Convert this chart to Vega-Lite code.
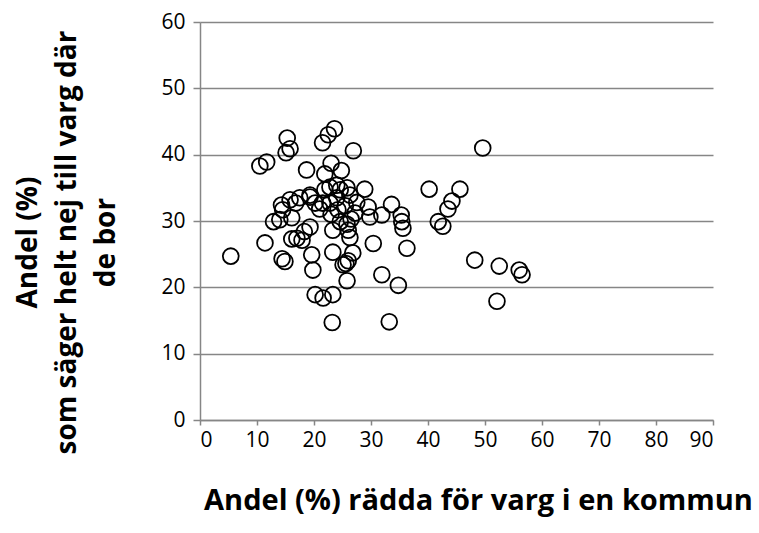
{
  "$schema": "https://vega.github.io/schema/vega-lite/v6.json",
  "width": 513,
  "height": 398,
  "autosize": {"type": "none"},
  "padding": {"left": 200, "top": 22, "right": 46, "bottom": 113},
  "background": "white",
  "config": {
    "view": {"stroke": null},
    "font": "Open Sans",
    "axis": {
      "labelFont": "Open Sans",
      "titleFont": "Open Sans",
      "labelColor": "black",
      "titleColor": "black",
      "domainColor": "#868686",
      "tickColor": "#868686",
      "gridColor": "#868686",
      "domainWidth": 1.5,
      "tickWidth": 1.5,
      "gridWidth": 1.5
    }
  },
  "data": {
    "values": [
      {"x": 15.3, "y": 42.5}, {"x": 15.8, "y": 40.9}, {"x": 15.1, "y": 40.3}, {"x": 11.7, "y": 38.9},
      {"x": 10.5, "y": 38.3}, {"x": 18.7, "y": 37.7}, {"x": 23.6, "y": 43.9}, {"x": 22.5, "y": 43.0},
      {"x": 21.5, "y": 41.8}, {"x": 26.9, "y": 40.6}, {"x": 23.0, "y": 38.7}, {"x": 21.9, "y": 37.1},
      {"x": 24.8, "y": 37.6}, {"x": 49.6, "y": 41.0}, {"x": 40.2, "y": 34.8}, {"x": 45.6, "y": 34.8},
      {"x": 44.2, "y": 33.0}, {"x": 43.5, "y": 31.8}, {"x": 41.8, "y": 29.9}, {"x": 42.6, "y": 29.2},
      {"x": 48.2, "y": 24.1}, {"x": 52.5, "y": 23.2}, {"x": 56.0, "y": 22.6}, {"x": 56.5, "y": 21.9},
      {"x": 52.1, "y": 17.9}, {"x": 5.4, "y": 24.7}, {"x": 11.4, "y": 26.7}, {"x": 14.4, "y": 24.3},
      {"x": 14.9, "y": 23.9}, {"x": 12.9, "y": 29.9}, {"x": 14.0, "y": 30.2}, {"x": 14.5, "y": 31.7},
      {"x": 14.3, "y": 32.4}, {"x": 15.8, "y": 33.2}, {"x": 17.5, "y": 33.5}, {"x": 19.3, "y": 33.6},
      {"x": 20.2, "y": 32.7}, {"x": 16.1, "y": 30.5}, {"x": 17.0, "y": 27.4}, {"x": 16.1, "y": 27.3},
      {"x": 17.9, "y": 27.1}, {"x": 19.3, "y": 29.1}, {"x": 19.6, "y": 24.9}, {"x": 19.8, "y": 22.6},
      {"x": 20.2, "y": 18.9}, {"x": 21.6, "y": 18.4}, {"x": 23.3, "y": 18.9}, {"x": 23.2, "y": 14.7},
      {"x": 33.2, "y": 14.8}, {"x": 23.3, "y": 25.3}, {"x": 25.1, "y": 23.4}, {"x": 25.6, "y": 23.6},
      {"x": 26.0, "y": 24.0}, {"x": 25.8, "y": 21.0}, {"x": 26.8, "y": 25.2}, {"x": 30.4, "y": 26.6},
      {"x": 36.3, "y": 25.9}, {"x": 31.9, "y": 21.9}, {"x": 34.8, "y": 20.3}, {"x": 28.9, "y": 34.8},
      {"x": 29.5, "y": 32.1}, {"x": 31.9, "y": 30.9}, {"x": 33.6, "y": 32.5}, {"x": 35.3, "y": 30.9},
      {"x": 35.4, "y": 29.9}, {"x": 35.6, "y": 28.9}, {"x": 19.3, "y": 33.9}, {"x": 21.9, "y": 34.7},
      {"x": 22.8, "y": 35.1}, {"x": 24.0, "y": 35.4}, {"x": 24.6, "y": 34.7}, {"x": 25.8, "y": 35.0},
      {"x": 26.3, "y": 33.9}, {"x": 24.0, "y": 33.5}, {"x": 22.8, "y": 32.7}, {"x": 21.5, "y": 32.7},
      {"x": 24.2, "y": 31.7}, {"x": 27.2, "y": 31.2}, {"x": 29.8, "y": 30.6}, {"x": 23.3, "y": 28.6},
      {"x": 26.0, "y": 28.6}, {"x": 26.3, "y": 27.5}, {"x": 16.8, "y": 32.7}, {"x": 18.3, "y": 28.4},
      {"x": 24.6, "y": 29.9}, {"x": 26.5, "y": 30.3}, {"x": 27.5, "y": 32.8}, {"x": 25.5, "y": 32.3},
      {"x": 23.0, "y": 31.0}, {"x": 21.0, "y": 31.8}, {"x": 25.8, "y": 29.5}
    ]
  },
  "mark": {"type": "point", "shape": "circle", "filled": false, "stroke": "black", "strokeWidth": 1.8, "size": 250, "opacity": 1},
  "encoding": {
    "x": {
      "field": "x", "type": "quantitative",
      "scale": {"domain": [0, 90], "nice": false},
      "axis": {
        "values": [0, 10, 20, 30, 40, 50, 60, 70, 80, 90],
        "grid": false,
        "tickSize": 5,
        "labelFontSize": 21,
        "labelPadding": 4,
        "title": "Andel (%) rädda för varg i en kommun",
        "titleFontSize": 29,
        "titleFontWeight": "bold",
        "titleAnchor": "start",
        "titleAlign": "center",
        "titleBaseline": "middle",
        "titleX": 278,
        "titleY": 80
      }
    },
    "y": {
      "field": "y", "type": "quantitative",
      "scale": {"domain": [0, 60], "nice": false, "zero": true},
      "axis": {
        "values": [0, 10, 20, 30, 40, 50, 60],
        "grid": true,
        "tickSize": 7,
        "labelFontSize": 21,
        "labelPadding": 8,
        "title": ["Andel (%)", "som säger helt nej till varg där", "de bor"],
        "titleFontSize": 28,
        "titleFontWeight": "bold",
        "titleAngle": -90,
        "titleAlign": "center",
        "titleBaseline": "top",
        "titleLineHeight": 39,
        "titleX": -186,
        "titleY": 220
      }
    }
  }
}
